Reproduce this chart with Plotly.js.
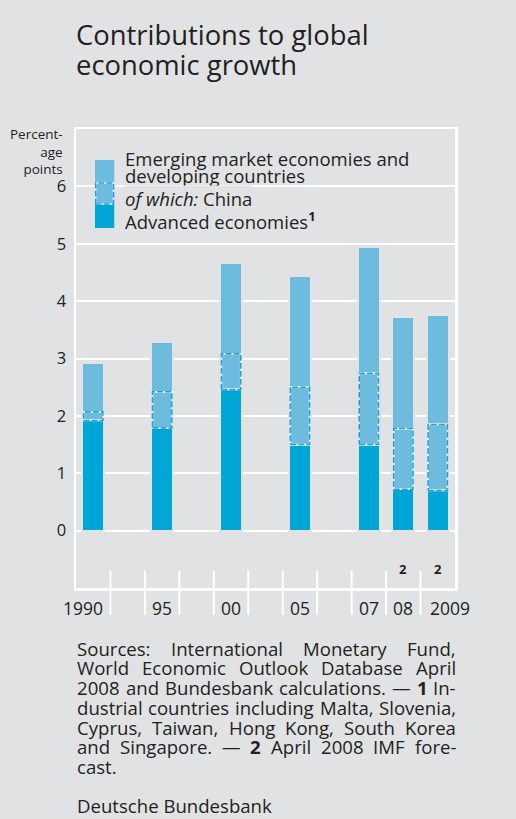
<!DOCTYPE html>
<html>
<head>
<meta charset="utf-8">
<script src="https://cdn.plot.ly/plotly-3.0.1.min.js"></script>
<style>
  html, body { margin: 0; padding: 0; background: #e1e2e4; }
  #chart { width: 516px; height: 819px; }
</style>
</head>
<body>
<div id="chart"></div>
<script>
// ---------------- DATA ----------------
const categories = ['1990', '95', '00', '05', '07', '08', '2009'];
// Contributions to global growth, percentage points
const advanced = [1.92, 1.79, 2.46, 1.50, 1.50, 0.72, 0.70];
const emerging = [1.01, 1.49, 2.20, 2.93, 3.44, 3.01, 3.05];   // incl. China
const china    = [0.15, 0.63, 0.62, 1.00, 1.24, 1.06, 1.15];
const forecast = [false, false, false, false, false, true, true];
const yTicks = [0, 1, 2, 3, 4, 5, 6];

const seriesNames = ['Emerging market economies and', 'developing countries',
                     '<i>of which:</i> China', 'Advanced economies<sup><b>1</b></sup>'];
const titleLines = ['Contributions to global', 'economic growth'];
const yUnitText = 'Percent-<br>age<br>points';
const footLines = [
  'Sources: International Monetary Fund,',
  'World Economic Outlook Database April',
  '2008 and Bundesbank calculations. — **1** In-',
  'dustrial countries including Malta, Slovenia,',
  'Cyprus, Taiwan, Hong Kong, South Korea',
  'and Singapore. — **2** April 2008 IMF fore-',
  'cast.'
];
const sourceText = 'Deutsche Bundesbank';

// ---------------- LAYOUT CONSTANTS ----------------
const slots = [0, 2, 4, 6, 8, 9, 10];   // horizontal slot of each bar
const BG = '#e1e2e4';
const DARK = '#00a6d6';
const LIGHT = '#6dbcde';
const DASH_BLUE = '#22a0da';
const TXT = '#231f20';
const FONT = '"Open Sans", "Noto Sans", sans-serif';
const L = 76, R = 455.5, T = 129, B = 588;
const PW = R - L, PH = B - T;
const px2x = p => (p - L) / PW;
const px2y = p => (B - p) / PH;
const halfBar = 0.28;

// text measuring to match the reference's wide typeface
const ctx = document.createElement('canvas').getContext('2d');
const measure = (t, size, bold) => { ctx.font = (bold ? 'bold ' : '') + size + 'px "Open Sans"'; return ctx.measureText(t).width; };
const fit = (t, target) => Math.round(20 * target / measure(t, 20, false) * 10) / 10;

// ---------------- TRACES ----------------
const rest = emerging.map((v, i) => +(v - china[i]).toFixed(2));
const barLine = { color: BG, width: 2 };
const traces = [
  { type: 'bar', x: slots, y: advanced, width: 0.64, marker: { color: DARK, line: barLine }, hoverinfo: 'skip' },
  { type: 'bar', x: slots, y: china, width: 0.64, marker: { color: LIGHT, line: barLine }, hoverinfo: 'skip' },
  { type: 'bar', x: slots, y: rest, width: 0.64, marker: { color: LIGHT, line: barLine }, hoverinfo: 'skip' }
];
const ox = [], oy = [];
slots.forEach((s, i) => {
  const y0 = advanced[i], y1 = advanced[i] + china[i];
  ox.push(s - halfBar, s + halfBar, s + halfBar, s - halfBar, s - halfBar, null);
  oy.push(y0, y0, y1, y1, y0, null);
});
traces.push({ type: 'scatter', mode: 'lines', x: ox, y: oy, line: { color: '#ffffff', width: 1.6 }, hoverinfo: 'skip', cliponaxis: false });
traces.push({ type: 'scatter', mode: 'lines', x: ox, y: oy, line: { color: DASH_BLUE, width: 1.6, dash: '6px,2px' }, hoverinfo: 'skip', cliponaxis: false });

// ---------------- SHAPES ----------------
const shapes = [];
for (let k = 0; k < 10; k++) {
  shapes.push({ type: 'line', xref: 'x', yref: 'paper', x0: k + 0.5, x1: k + 0.5,
    y0: px2y(570.5), y1: px2y(615), line: { color: '#ffffff', width: 2 }, layer: 'above' });
}
const sx0 = px2x(95), sx1 = px2x(114.3);
shapes.push({ type: 'rect', xref: 'paper', yref: 'paper', x0: sx0, x1: sx1, y0: px2y(182), y1: px2y(160), fillcolor: LIGHT, line: { width: 0 }, layer: 'above' });
shapes.push({ type: 'rect', xref: 'paper', yref: 'paper', x0: sx0, x1: sx1, y0: px2y(205), y1: px2y(182), fillcolor: LIGHT, line: { width: 0 }, layer: 'above' });
shapes.push({ type: 'rect', xref: 'paper', yref: 'paper', x0: sx0 + 0.002, x1: sx1 - 0.002, y0: px2y(204), y1: px2y(183), fillcolor: 'rgba(0,0,0,0)', line: { color: '#ffffff', width: 1.6 }, layer: 'above' });
shapes.push({ type: 'rect', xref: 'paper', yref: 'paper', x0: sx0 + 0.002, x1: sx1 - 0.002, y0: px2y(204), y1: px2y(183), fillcolor: 'rgba(0,0,0,0)', line: { color: DASH_BLUE, width: 1.6, dash: '6px,2px' }, layer: 'above' });
shapes.push({ type: 'rect', xref: 'paper', yref: 'paper', x0: sx0, x1: sx1, y0: px2y(228), y1: px2y(205), fillcolor: DARK, line: { width: 0 }, layer: 'above' });

// ---------------- ANNOTATIONS ----------------
const ann = [];
const txt = (text, x, y, size, xanchor, extra) => Object.assign({
  text, x, y, xref: 'paper', yref: 'paper', showarrow: false, xanchor: xanchor || 'left', yanchor: 'middle',
  font: { family: FONT, size: size, color: TXT }, borderpad: 0
}, extra || {});

// title
const TS = fit(titleLines[0], 293);
ann.push(txt(titleLines[0], px2x(75), px2y(35), TS, 'left'));
ann.push(txt(titleLines[1], px2x(75), px2y(65), TS, 'left'));
// y unit
ann.push(txt(yUnitText, px2x(64), px2y(151.5), 13.5, 'right', { align: 'right' }));
// legend texts
const LS = fit('Emerging market economies and', 284);
const legX = px2x(124);
const legY = [158.3, 175, 198.3, 220];
seriesNames.forEach((t, i) => ann.push(txt(t, legX, px2y(legY[i]), LS, 'left', i === 2 ? { bgcolor: BG } : {})));
// x labels
categories.forEach((c, i) => {
  let anchor = 'center', x = slots[i];
  if (i === 0) { anchor = 'right'; x = slots[i] + 0.3; }
  if (i === categories.length - 1) { anchor = 'left'; x = slots[i] - 0.25; }
  ann.push({ text: c, x: x, xref: 'x', y: px2y(608), yref: 'paper', showarrow: false, xanchor: anchor, yanchor: 'middle',
    font: { family: FONT, size: 17.5, color: TXT }, borderpad: 0 });
  if (forecast[i]) {
    ann.push({ text: '<b>2</b>', x: slots[i], xref: 'x', y: px2y(569.3), yref: 'paper', showarrow: false, xanchor: 'center', yanchor: 'middle',
      font: { family: FONT, size: 13, color: TXT }, borderpad: 0 });
  }
});
// footnote, justified
const FS = fit(footLines[3], 376);
const footY = [648, 667.7, 687.2, 707, 727, 746.8, 766.3];
footLines.forEach((line, li) => {
  const words = line.split(' ').map(w => {
    const bold = /^\*\*.*\*\*$/.test(w);
    const t = bold ? w.replace(/\*\*/g, '') : w;
    return { t, bold, w: measure(t, FS, bold) };
  });
  const total = words.reduce((a, w) => a + w.w, 0);
  const last = li === footLines.length - 1;
  const gap = (last || words.length < 2) ? measure(' ', FS, false) : (PW - total) / (words.length - 1);
  let xp = L;
  words.forEach(w => {
    ann.push(txt(w.bold ? '<b>' + w.t + '</b>' : w.t, px2x(xp), px2y(footY[li]), FS, 'left'));
    xp += w.w + gap;
  });
});
ann.push(txt(sourceText, px2x(76), px2y(805), FS, 'left'));

// ---------------- LAYOUT ----------------
const layout = {
  width: 516, height: 819,
  paper_bgcolor: BG, plot_bgcolor: BG,
  margin: { l: L, r: 516 - R, t: T, b: 819 - B, pad: 0 },
  barmode: 'stack', bargap: 0,
  showlegend: false,
  font: { family: FONT, color: TXT },
  xaxis: {
    range: [-0.5, 10.5], showticklabels: false, showgrid: false, zeroline: false,
    showline: true, mirror: true, linecolor: '#ffffff', linewidth: 2.5, ticks: '', fixedrange: true
  },
  yaxis: {
    range: [-1, 7], tickvals: yTicks, ticktext: yTicks.map(String),
    showgrid: true, gridcolor: '#ffffff', gridwidth: 2,
    zeroline: true, zerolinecolor: '#ffffff', zerolinewidth: 2,
    showline: true, mirror: true, linecolor: '#ffffff', linewidth: 2.5,
    ticks: '', ticklabelstandoff: 4,
    tickfont: { family: FONT, size: 16.5, color: TXT }, fixedrange: true
  },
  shapes: shapes,
  annotations: ann
};

Plotly.newPlot('chart', traces, layout, { displayModeBar: false, staticPlot: true });
</script>
</body>
</html>
